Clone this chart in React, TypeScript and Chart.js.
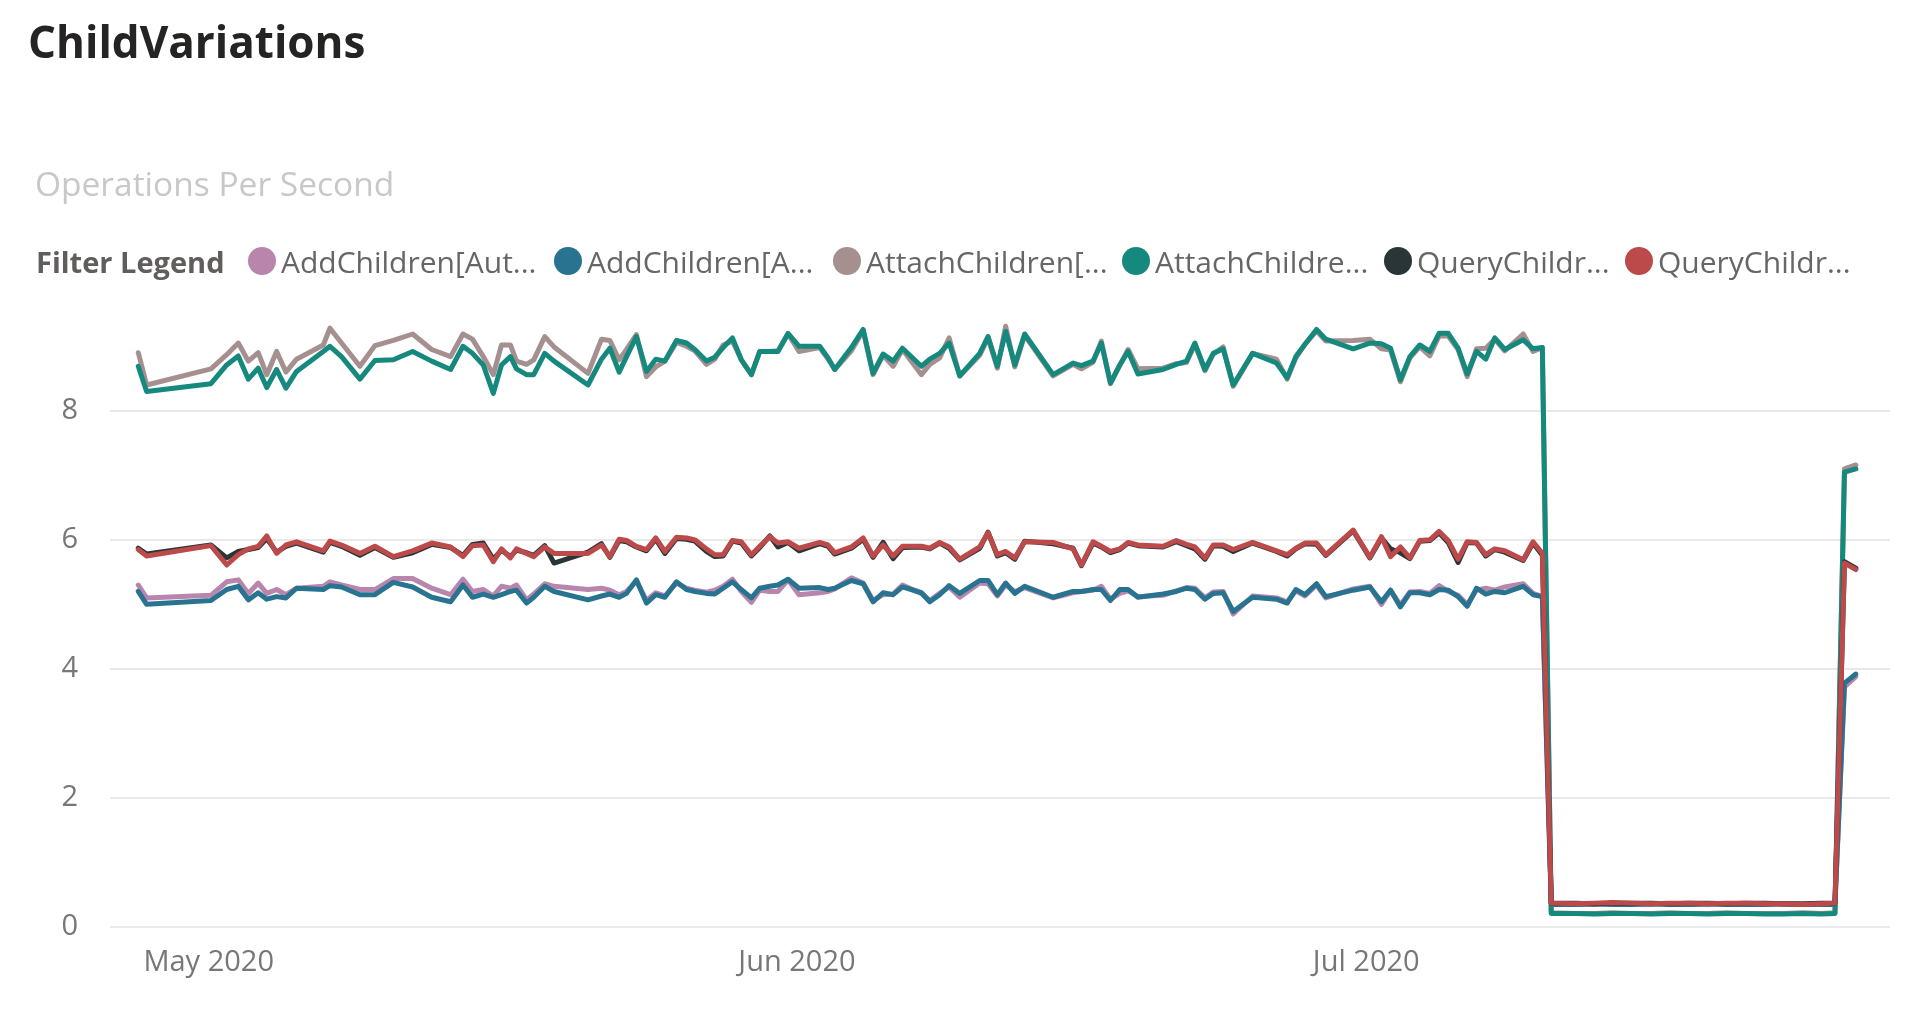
import React, { useEffect, useRef } from 'react';
import { Chart, registerables } from 'chart.js';

Chart.register(...registerables);

// x values: run time, in days since 2020-05-01 00:00
const runDays = [
  -3.71, -3.27, 0.12, 0.95, 1.56, 2.09, 2.61, 3.06, 3.58, 4.07, 4.63, 6.04, 6.39, 7.0, 7.97, 8.76, 9.73, 10.75, 11.75, 12.75, 13.4, 13.9, 14.47,
  15.0, 15.43, 15.9, 16.22, 16.75, 17.13, 17.71, 18.2, 19.99, 20.7, 21.14, 21.63, 22.02, 22.54, 23.07, 23.56, 24.04, 24.65, 25.18, 25.62, 26.23, 26.67, 27.11, 27.6, 28.07, 28.6, 29.04, 29.57, 30.0, 30.53, 31.11, 32.2, 32.64, 32.99,
  33.87, 34.49, 35.01, 35.54, 36.07, 36.56, 37.56, 38.0, 38.52, 39.02, 39.58, 40.63, 41.07, 41.56, 42.0, 42.48, 43.0, 44.5, 45.55, 45.99, 46.6, 47.04, 47.52, 48.01, 48.45, 48.97, 50.29, 50.99,
  51.53, 51.97, 52.5, 52.94, 53.46, 53.99, 55.01, 56.27, 56.83, 57.29, 57.77, 58.38, 58.87, 60.31, 61.19, 61.8, 62.28, 62.8, 63.3, 63.82, 64.35, 64.84, 65.32, 65.84, 66.32, 66.81, 67.3, 67.77, 68.3, 69.27, 69.79, 70.28,
  70.75, 72, 73, 74, 75, 76, 77, 78, 79, 80, 81, 82, 83, 84, 85, 85.7, 86.2, 86.8,
];

const tickDays = [0, 31, 61];
const tickLabels = ['May 2020', 'Jun 2020', 'Jul 2020'];
const yTicks = [0, 2, 4, 6, 8];

const seriesLabels = [
  'AddChildren[Aut...',
  'AddChildren[A...',
  'AttachChildren[...',
  'AttachChildre...',
  'QueryChildr...',
  'QueryChildr...',
];
const seriesColors = ['#B886AD', '#287490', '#A68F8F', '#16897E', '#293537', '#BC4A4A'];

const addChildrenAut = [
  5.30, 5.10, 5.14, 5.35, 5.38, 5.17, 5.33, 5.17, 5.23, 5.15, 5.25, 5.28, 5.35, 5.30, 5.23, 5.23, 5.40, 5.40, 5.25, 5.15, 5.39, 5.20, 5.23,
  5.13, 5.28, 5.25, 5.30, 5.07, 5.16, 5.32, 5.28, 5.23, 5.25, 5.22, 5.15, 5.20, 5.36, 5.06, 5.18, 5.13, 5.33, 5.25, 5.22, 5.19, 5.22, 5.28, 5.39, 5.20, 5.03, 5.22, 5.20, 5.20, 5.38, 5.15, 5.18, 5.20, 5.24,
  5.41, 5.33, 5.06, 5.15, 5.16, 5.30, 5.17, 5.06, 5.17, 5.27, 5.11, 5.33, 5.32, 5.13, 5.30, 5.20, 5.26, 5.10, 5.18, 5.20, 5.22, 5.28, 5.08, 5.17, 5.21, 5.12, 5.14, 5.21,
  5.26, 5.25, 5.10, 5.19, 5.20, 4.85, 5.13, 5.10, 5.04, 5.21, 5.13, 5.30, 5.10, 5.24, 5.28, 5.00, 5.22, 4.99, 5.19, 5.20, 5.17, 5.29, 5.20, 5.14, 5.00, 5.22, 5.25, 5.22, 5.27, 5.32, 5.17, 5.12,
  0.36, 0.35, 0.35, 0.36, 0.35, 0.35, 0.36, 0.35, 0.35, 0.36, 0.35, 0.36, 0.35, 0.35, 0.36, 0.35, 3.72, 3.88,
];

const addChildrenA = [
  5.20, 5.00, 5.06, 5.23, 5.28, 5.07, 5.18, 5.08, 5.12, 5.10, 5.25, 5.23, 5.29, 5.27, 5.15, 5.15, 5.34, 5.27, 5.11, 5.04, 5.30, 5.11, 5.16,
  5.11, 5.15, 5.20, 5.22, 5.02, 5.11, 5.28, 5.20, 5.07, 5.13, 5.16, 5.11, 5.17, 5.38, 5.02, 5.15, 5.11, 5.35, 5.23, 5.20, 5.17, 5.16, 5.25, 5.35, 5.23, 5.10, 5.25, 5.28, 5.30, 5.39, 5.25, 5.26, 5.23, 5.25,
  5.37, 5.32, 5.04, 5.18, 5.15, 5.27, 5.18, 5.04, 5.15, 5.29, 5.17, 5.37, 5.37, 5.15, 5.33, 5.17, 5.28, 5.11, 5.20, 5.20, 5.23, 5.23, 5.06, 5.23, 5.23, 5.11, 5.16, 5.20,
  5.25, 5.23, 5.08, 5.17, 5.18, 4.89, 5.11, 5.08, 5.02, 5.23, 5.15, 5.32, 5.12, 5.22, 5.27, 5.04, 5.22, 4.96, 5.18, 5.18, 5.15, 5.23, 5.22, 5.12, 4.97, 5.25, 5.16, 5.20, 5.18, 5.28, 5.15, 5.12,
  0.35, 0.35, 0.36, 0.35, 0.35, 0.36, 0.35, 0.35, 0.36, 0.35, 0.35, 0.35, 0.36, 0.35, 0.35, 0.35, 3.78, 3.92,
];

const attachChildrenA = [
  8.90, 8.40, 8.65, 8.87, 9.05, 8.77, 8.90, 8.56, 8.92, 8.60, 8.80, 9.02, 9.28, 9.05, 8.69, 9.01, 9.09, 9.19, 8.95, 8.84, 9.19, 9.11, 8.84,
  8.56, 9.02, 9.02, 8.77, 8.72, 8.79, 9.15, 8.99, 8.58, 9.11, 9.09, 8.79, 8.95, 9.18, 8.53, 8.68, 8.77, 9.06, 9.00, 8.93, 8.72, 8.80, 9.02, 9.08, 8.79, 8.56, 8.92, 8.92, 8.93, 9.19, 8.92, 8.98, 8.80, 8.64,
  8.93, 9.24, 8.56, 8.86, 8.69, 8.95, 8.56, 8.72, 8.82, 9.13, 8.54, 8.86, 9.13, 8.66, 9.31, 8.68, 9.17, 8.54, 8.72, 8.65, 8.75, 9.08, 8.42, 8.70, 8.95, 8.65, 8.66, 8.73,
  8.75, 9.03, 8.62, 8.88, 8.99, 8.38, 8.89, 8.80, 8.49, 8.82, 9.03, 9.24, 9.08, 9.09, 9.11, 8.96, 8.94, 8.45, 8.82, 8.99, 8.85, 9.16, 9.16, 8.95, 8.53, 8.96, 8.97, 9.11, 8.93, 9.19, 8.92, 8.98,
  0.22, 0.21, 0.21, 0.22, 0.21, 0.21, 0.22, 0.21, 0.21, 0.22, 0.21, 0.21, 0.21, 0.22, 0.21, 0.22, 7.10, 7.16,
];

const attachChildrenB = [
  8.69, 8.30, 8.42, 8.71, 8.85, 8.49, 8.66, 8.36, 8.64, 8.35, 8.61, 8.92, 9.00, 8.84, 8.49, 8.78, 8.79, 8.92, 8.77, 8.64, 9.00, 8.89, 8.71,
  8.27, 8.71, 8.84, 8.65, 8.56, 8.56, 8.89, 8.77, 8.40, 8.80, 8.97, 8.60, 8.84, 9.15, 8.61, 8.80, 8.77, 9.09, 9.05, 8.95, 8.77, 8.83, 8.98, 9.13, 8.79, 8.56, 8.92, 8.92, 8.92, 9.20, 9.00, 9.00, 8.82, 8.64,
  8.98, 9.26, 8.58, 8.88, 8.77, 8.97, 8.69, 8.80, 8.89, 9.05, 8.54, 8.89, 9.15, 8.69, 9.23, 8.71, 9.19, 8.56, 8.74, 8.70, 8.77, 9.05, 8.43, 8.71, 8.92, 8.57, 8.64, 8.72,
  8.77, 9.05, 8.64, 8.89, 8.96, 8.40, 8.89, 8.74, 8.51, 8.84, 9.03, 9.26, 9.11, 8.96, 9.05, 9.04, 8.97, 8.48, 8.84, 9.02, 8.92, 9.20, 9.20, 8.97, 8.57, 8.92, 8.80, 9.13, 8.95, 9.10, 8.96, 8.98,
  0.21, 0.21, 0.20, 0.21, 0.21, 0.20, 0.21, 0.21, 0.20, 0.21, 0.21, 0.20, 0.20, 0.21, 0.20, 0.21, 7.05, 7.10,
];

const queryChildrA = [
  5.87, 5.78, 5.92, 5.72, 5.82, 5.85, 5.88, 6.02, 5.81, 5.90, 5.95, 5.81, 5.96, 5.90, 5.76, 5.88, 5.73, 5.80, 5.93, 5.88, 5.76, 5.93, 5.95,
  5.70, 5.84, 5.74, 5.84, 5.80, 5.76, 5.91, 5.64, 5.81, 5.94, 5.73, 5.99, 5.97, 5.89, 5.83, 6.01, 5.79, 6.02, 6.01, 5.98, 5.82, 5.74, 5.75, 5.98, 5.95, 5.75, 5.88, 6.06, 5.89, 5.96, 5.83, 5.94, 5.90, 5.78,
  5.87, 6.01, 5.73, 5.96, 5.71, 5.88, 5.89, 5.86, 5.95, 5.87, 5.69, 5.87, 6.12, 5.75, 5.80, 5.70, 5.98, 5.94, 5.87, 5.60, 5.95, 5.89, 5.80, 5.85, 5.95, 5.91, 5.89, 5.97,
  5.91, 5.86, 5.70, 5.91, 5.90, 5.82, 5.95, 5.82, 5.75, 5.86, 5.94, 5.93, 5.76, 6.14, 5.72, 6.03, 5.86, 5.80, 5.71, 5.98, 5.99, 6.11, 5.96, 5.65, 5.96, 5.95, 5.75, 5.85, 5.81, 5.68, 5.95, 5.76,
  0.37, 0.37, 0.36, 0.37, 0.37, 0.37, 0.36, 0.37, 0.37, 0.36, 0.37, 0.37, 0.36, 0.36, 0.37, 0.37, 5.66, 5.56,
];

const queryChildrB = [
  5.85, 5.75, 5.91, 5.61, 5.77, 5.86, 5.90, 6.06, 5.79, 5.92, 5.97, 5.83, 5.98, 5.92, 5.79, 5.90, 5.74, 5.83, 5.95, 5.89, 5.74, 5.91, 5.92,
  5.66, 5.86, 5.72, 5.86, 5.79, 5.74, 5.89, 5.79, 5.79, 5.92, 5.74, 6.01, 5.99, 5.90, 5.85, 6.03, 5.82, 6.04, 6.03, 6.00, 5.86, 5.77, 5.77, 5.99, 5.97, 5.77, 5.90, 6.05, 5.95, 5.97, 5.87, 5.96, 5.92, 5.80,
  5.89, 6.03, 5.75, 5.92, 5.75, 5.90, 5.90, 5.87, 5.96, 5.89, 5.70, 5.89, 6.11, 5.77, 5.82, 5.72, 5.97, 5.96, 5.86, 5.61, 5.97, 5.90, 5.82, 5.86, 5.96, 5.92, 5.90, 5.99,
  5.93, 5.89, 5.72, 5.92, 5.92, 5.85, 5.96, 5.83, 5.77, 5.87, 5.95, 5.95, 5.77, 6.15, 5.73, 6.05, 5.74, 5.89, 5.72, 5.99, 6.00, 6.13, 5.99, 5.70, 5.97, 5.96, 5.77, 5.86, 5.83, 5.69, 5.97, 5.79,
  0.37, 0.36, 0.37, 0.38, 0.37, 0.36, 0.37, 0.37, 0.36, 0.37, 0.37, 0.36, 0.36, 0.35, 0.36, 0.37, 5.64, 5.54,
];

const seriesValues = [addChildrenAut, addChildrenA, attachChildrenA, attachChildrenB, queryChildrA, queryChildrB];

const FONT = "'Segoe UI', 'Open Sans', sans-serif";

// legend item left positions (layout)
const legendLefts = [248, 554, 833, 1122, 1384, 1625];

export default function App() {
  const canvasRef = useRef<HTMLCanvasElement | null>(null);

  useEffect(() => {
    const canvas = canvasRef.current;
    if (!canvas) return;
    const tickFont = { family: FONT, size: 29 };
    const chart = new Chart(canvas, {
      type: 'line',
      data: {
        datasets: seriesValues.map((vals, i) => ({
          label: seriesLabels[i],
          data: vals.map((v, j) => ({ x: runDays[j], y: v })),
          borderColor: seriesColors[i],
          backgroundColor: seriesColors[i],
          borderWidth: 5,
          pointRadius: 0,
          pointHoverRadius: 0,
          tension: 0,
          borderJoinStyle: 'round',
          borderCapStyle: 'round',
          order: seriesValues.length - i,
        })),
      },
      options: {
        responsive: false,
        animation: false,
        layout: { padding: { top: 314, right: 25, left: 0, bottom: 0 } },
        plugins: {
          legend: { display: false },
          tooltip: { enabled: false },
          title: { display: false },
        },
        scales: {
          x: {
            type: 'linear',
            min: -5.2,
            max: 88.6,
            grid: { display: false },
            border: { display: false },
            afterFit: (s: any) => {
              s.height = 84;
            },
            afterBuildTicks: (s: any) => {
              s.ticks = tickDays.map((v) => ({ value: v }));
            },
            ticks: {
              autoSkip: false,
              maxRotation: 0,
              padding: 10,
              color: '#777777',
              font: tickFont,
              callback: (_v: any, i: number) => tickLabels[i],
            },
          },
          y: {
            type: 'linear',
            min: 0,
            max: 9.5,
            afterFit: (s: any) => {
              s.width = 110;
            },
            afterBuildTicks: (s: any) => {
              s.ticks = yTicks.map((v) => ({ value: v }));
            },
            grid: { color: '#E9E9E9', lineWidth: 2, drawTicks: false },
            border: { display: false },
            ticks: {
              padding: 32,
              color: '#777777',
              font: tickFont,
              callback: (v: any) => String(v),
            },
          },
        },
      },
    } as any);
    return () => chart.destroy();
  }, []);

  return (
    <div style={{ position: 'fixed', left: 0, top: 0, width: 1915, height: 1011, background: '#fff', overflow: 'hidden', fontFamily: FONT }}>
      <canvas ref={canvasRef} width={1915} height={1011} style={{ position: 'absolute', left: 0, top: 0, width: 1915, height: 1011 }} />
      <div style={{ position: 'absolute', left: 28, top: 19, fontSize: 44, fontWeight: 700, lineHeight: 1, color: '#252423', whiteSpace: 'nowrap' }}>
        ChildVariations
      </div>
      <div style={{ position: 'absolute', left: 35, top: 167, fontSize: 33.5, fontWeight: 400, lineHeight: 1, color: '#C8C8C8', whiteSpace: 'nowrap' }}>
        Operations Per Second
      </div>
      <div style={{ position: 'absolute', left: 36, top: 241, height: 40, display: 'flex', alignItems: 'center', fontSize: 29, fontWeight: 700, color: '#605E5C', whiteSpace: 'nowrap' }}>
        Filter Legend
      </div>
      {seriesLabels.map((label, i) => (
        <div key={i} style={{ position: 'absolute', left: legendLefts[i], top: 241, height: 40, display: 'flex', alignItems: 'center', whiteSpace: 'nowrap' }}>
          <span style={{ width: 28, height: 28, borderRadius: '50%', background: seriesColors[i], display: 'inline-block', marginRight: 5, flex: '0 0 auto' }} />
          <span style={{ fontSize: 30, color: '#666666' }}>{label}</span>
        </div>
      ))}
    </div>
  );
}
